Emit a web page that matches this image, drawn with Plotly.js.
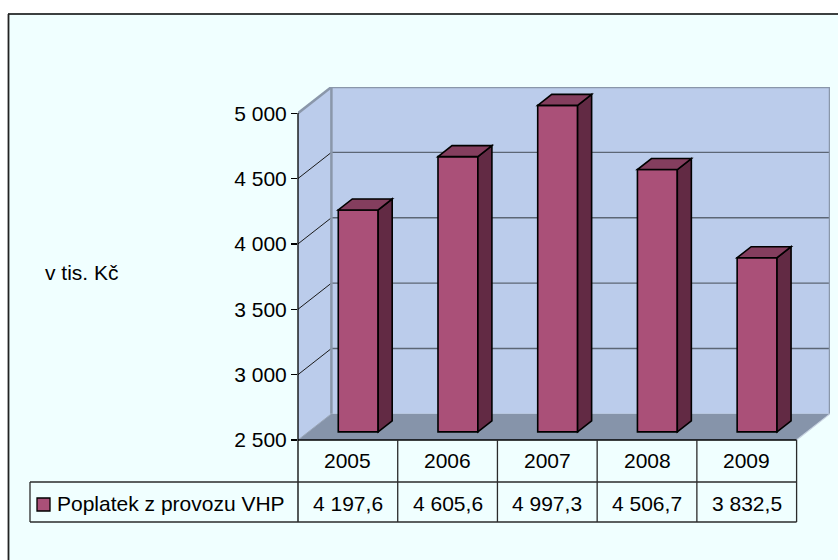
<!DOCTYPE html>
<html>
<head>
<meta charset="utf-8">
<script src="https://cdn.plot.ly/plotly-3.0.1.min.js"></script>
<style>html,body{margin:0;padding:0;background:#fff;}#chart{width:838px;height:560px;}</style>
</head>
<body>
<div id="chart"></div>
<script>
// ---- data ----
const years = ['2005', '2006', '2007', '2008', '2009'];
const values = [4197.6, 4605.6, 4997.3, 4506.7, 3832.5];
const valueLabels = ['4 197,6', '4 605,6', '4 997,3', '4 506,7', '3 832,5'];
const tickVals = [2500, 3000, 3500, 4000, 4500, 5000];
const tickLabels = ['2 500', '3 000', '3 500', '4 000', '4 500', '5 000'];
const seriesName = 'Poplatek z provozu VHP';
const yTitle = 'v tis. Kč';

// ---- geometry / style ----
const W = 838, H = 560;
const M = {l: 298, r: 8, t: 87, b: 120};
const PW = W - M.l - M.r, PH = H - M.t - M.b;
const N = years.length;
const DX = 0.335, DY = 200;           // depth offset of back wall (category units, value units)
const D0 = 0.31, D1 = 0.73;           // bar depth (front / back fraction)
const BW = 0.40;                      // bar width in categories
const YMIN = tickVals[0], YMAX = tickVals[tickVals.length - 1];
const XMAX = N + DX;
const FONT = 'Liberation Sans, Arial, sans-serif';
const FS = 21;

const C = {
  bg: '#F0FFFF', wall: '#BBCCEB', floor: '#8694AA', edge: '#8A97AA', grid: '#5C6675',
  front: '#AA5078', side: '#622A44', top: '#843E5E', line: '#000000', table: '#2b2b2b'
};

// pixel -> paper helpers (layout positions only)
const px = x => (x - M.l) / PW;
const py = y => (H - M.b - y) / PH;
const cx = c => c / XMAX;   // category coordinate -> paper x

function poly(pts) {
  return 'M' + pts.map(p => p[0] + ',' + p[1]).join(' L') + ' Z';
}

const shapes = [];
// walls & floor (axis refs)
shapes.push({type: 'path', xref: 'x', yref: 'y', layer: 'below',
  path: poly([[0, YMIN], [0, YMAX], [DX, YMAX + DY], [DX, YMIN + DY]]),
  fillcolor: C.wall, line: {width: 0}});
shapes.push({type: 'rect', xref: 'x', yref: 'y', layer: 'below',
  x0: DX, x1: N + DX, y0: YMIN + DY, y1: YMAX + DY,
  fillcolor: C.wall, line: {width: 0}});
shapes.push({type: 'path', xref: 'x', yref: 'y', layer: 'below',
  path: poly([[0, YMIN], [N, YMIN], [N + DX, YMIN + DY], [DX, YMIN + DY]]),
  fillcolor: C.floor, line: {width: 0}});
// gridlines
tickVals.forEach((v, k) => {
  if (k === 0) return;
  const last = k === tickVals.length - 1;
  shapes.push({type: 'line', xref: 'x', yref: 'y', layer: 'below',
    x0: DX, x1: N + DX, y0: v + DY, y1: v + DY,
    line: {color: last ? C.edge : C.grid, width: last ? 2.5 : 1.3}});
  shapes.push({type: 'line', xref: 'x', yref: 'y', layer: 'below',
    x0: 0, x1: DX, y0: v, y1: v + DY,
    line: {color: last ? C.edge : '#1a1a1a', width: last ? 2.5 : 1}});
});
// wall edges
shapes.push({type: 'line', xref: 'x', yref: 'y', layer: 'below',
  x0: DX, x1: DX, y0: YMIN + DY, y1: YMAX + DY, line: {color: C.edge, width: 2.5}});
shapes.push({type: 'line', xref: 'x', yref: 'y', layer: 'below',
  x0: N + DX, x1: N + DX, y0: YMIN + DY, y1: YMAX + DY, line: {color: C.edge, width: 2.5}});
shapes.push({type: 'line', xref: 'x', yref: 'y', layer: 'below',
  x0: 0, x1: DX, y0: YMIN, y1: YMIN + DY, line: {color: '#9aa6b8', width: 1}});
shapes.push({type: 'line', xref: 'x', yref: 'y', layer: 'below',
  x0: N, x1: N + DX, y0: YMIN, y1: YMIN + DY, line: {color: '#c8d2e0', width: 1.2}});

// bar side & top faces (derived from values)
values.forEach((v, i) => {
  const xl = i + 0.5 + D0 * DX - BW / 2, xr = xl + BW;
  const b0 = YMIN + D0 * DY, t0 = v + D0 * DY;
  const ddx = (D1 - D0) * DX, ddy = (D1 - D0) * DY;
  shapes.push({type: 'path', xref: 'x', yref: 'y', layer: 'above',
    path: poly([[xr, b0], [xr, t0], [xr + ddx, t0 + ddy], [xr + ddx, b0 + ddy]]),
    fillcolor: C.side, line: {color: C.line, width: 1.6}});
  shapes.push({type: 'path', xref: 'x', yref: 'y', layer: 'above',
    path: poly([[xl, t0], [xr, t0], [xr + ddx, t0 + ddy], [xl + ddx, t0 + ddy]]),
    fillcolor: C.top, line: {color: C.line, width: 1.6}});
});

// front axis line & table (paper refs)
const rowTop = py(440), rowMid = py(482), rowBot = py(522);
const legX0 = px(30);
shapes.push({type: 'line', xref: 'paper', yref: 'paper', layer: 'above',
  x0: 0, x1: 0, y0: py(113), y1: rowBot, line: {color: C.line, width: 1.3}});
shapes.push({type: 'line', xref: 'paper', yref: 'paper', layer: 'above',
  x0: 0, x1: cx(N), y0: rowTop, y1: rowTop, line: {color: C.line, width: 1.6}});
shapes.push({type: 'line', xref: 'paper', yref: 'paper', layer: 'above',
  x0: legX0, x1: cx(N), y0: rowMid, y1: rowMid, line: {color: C.table, width: 1.3}});
shapes.push({type: 'line', xref: 'paper', yref: 'paper', layer: 'above',
  x0: legX0, x1: cx(N), y0: rowBot, y1: rowBot, line: {color: C.table, width: 1.3}});
shapes.push({type: 'line', xref: 'paper', yref: 'paper', layer: 'above',
  x0: legX0, x1: legX0, y0: rowMid, y1: rowBot, line: {color: C.table, width: 1.3}});
for (let i = 1; i <= N; i++) {
  shapes.push({type: 'line', xref: 'paper', yref: 'paper', layer: 'above',
    x0: cx(i), x1: cx(i), y0: rowTop, y1: rowBot, line: {color: C.table, width: 1.3}});
}
// legend key
shapes.push({type: 'rect', xref: 'paper', yref: 'paper', layer: 'above',
  x0: px(37), x1: px(50), y0: py(498), y1: py(511),
  fillcolor: C.front, line: {color: C.line, width: 1.3}});

// outer chart frame
shapes.push({type: 'rect', xref: 'paper', yref: 'paper', layer: 'above',
  x0: px(0), x1: px(W), y0: py(0), y1: py(13), fillcolor: '#ffffff', line: {width: 0}});
shapes.push({type: 'rect', xref: 'paper', yref: 'paper', layer: 'above',
  x0: px(0), x1: px(8), y0: py(0), y1: py(H), fillcolor: '#ffffff', line: {width: 0}});
shapes.push({type: 'line', xref: 'paper', yref: 'paper', layer: 'above',
  x0: px(8), x1: px(W), y0: py(14), y1: py(14), line: {color: '#000', width: 1.5}});
shapes.push({type: 'line', xref: 'paper', yref: 'paper', layer: 'above',
  x0: px(8.5), x1: px(8.5), y0: py(14), y1: py(H), line: {color: '#222', width: 1.8}});

// annotations
const font = {family: FONT, size: FS, color: '#000'};
const annotations = [];
years.forEach((y, i) => annotations.push({xref: 'paper', yref: 'paper',
  x: cx(i + 0.5), y: py(460), text: y, showarrow: false, xanchor: 'center', yanchor: 'middle', font}));
valueLabels.forEach((t, i) => annotations.push({xref: 'paper', yref: 'paper',
  x: cx(i + 0.5), y: py(503), text: t, showarrow: false, xanchor: 'center', yanchor: 'middle', font}));
annotations.push({xref: 'paper', yref: 'paper', x: px(55), y: py(503), text: seriesName,
  showarrow: false, xanchor: 'left', yanchor: 'middle', font});
annotations.push({xref: 'paper', yref: 'paper', x: px(121), y: py(272), text: yTitle,
  showarrow: false, xanchor: 'right', yanchor: 'middle', font});

// bar front faces
const trace = {
  type: 'bar',
  name: seriesName,
  x: values.map((v, i) => i + 0.5 + D0 * DX),
  y: values.map(v => v - YMIN),
  base: values.map(() => YMIN + D0 * DY),
  width: BW,
  marker: {color: C.front, line: {color: C.line, width: 1.6}},
  hoverinfo: 'skip'
};

const layout = {
  width: W, height: H,
  margin: M,
  paper_bgcolor: C.bg,
  plot_bgcolor: 'rgba(0,0,0,0)',
  showlegend: false,
  font: {family: FONT, size: FS, color: '#000'},
  xaxis: {range: [0, XMAX], showgrid: false, zeroline: false, showline: false,
    showticklabels: false, ticks: '', fixedrange: true},
  yaxis: {range: [YMIN, YMAX + DY], showgrid: false, zeroline: false, showline: false,
    tickmode: 'array', tickvals: tickVals, ticktext: tickLabels,
    ticks: 'outside', ticklen: 6, tickwidth: 1.3, tickcolor: '#000',
    tickfont: {family: FONT, size: FS, color: '#000'}, fixedrange: true},
  shapes, annotations
};

Plotly.newPlot('chart', [trace], layout, {displayModeBar: false, staticPlot: true});
</script>
</body>
</html>
